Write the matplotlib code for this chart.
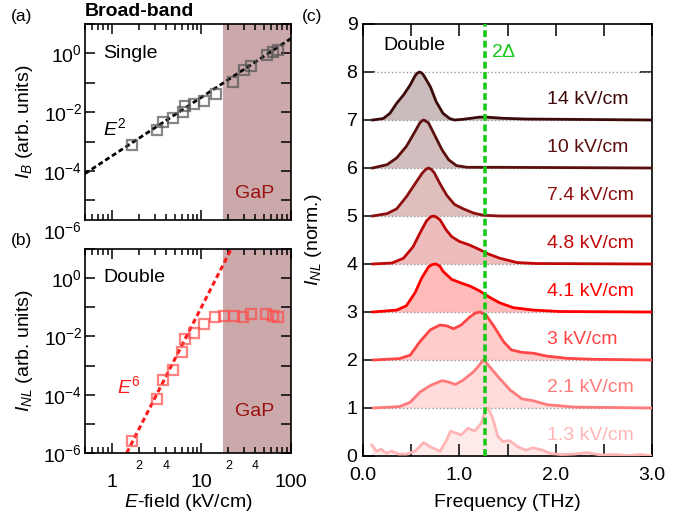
import matplotlib
matplotlib.use("Agg")
import matplotlib.pyplot as plt
import matplotlib.ticker as mticker
import matplotlib.transforms as mtransforms
import numpy as np

plt.rcParams['font.family'] = ['Liberation Sans', 'DejaVu Sans']
plt.rcParams['mathtext.fontset'] = 'custom'
plt.rcParams['mathtext.rm'] = 'Liberation Sans'
plt.rcParams['mathtext.it'] = 'Liberation Sans:italic'
plt.rcParams['font.size'] = 14

# ---- panel (a): single pulse, broad-band
single_E = [1.66, 3.16, 3.75, 4.84, 6.16, 6.54, 8.25, 10.7, 14.5, 22.6, 29.9, 35.4, 53.4, 63.2, 72.0]
single_logI = [-3.11, -2.60, -2.32, -2.21, -1.98, -1.79, -1.72, -1.62, -1.39, -0.97, -0.57, -0.44, -0.07, 0.04, 0.10]
e2_line_E = [0.5, 100]
e2_line_I = [8.1e-5, 3.2]

# ---- panel (b): double pulse
double_E = [1.66, 3.16, 3.75, 4.84, 5.99, 6.54, 8.25, 10.7, 14.1, 17.9, 23.0, 29.3, 35.4, 52.6, 63.2, 72.0]
double_logI = [-5.58, -4.14, -3.49, -3.14, -2.52, -2.08, -1.87, -1.59, -1.33, -1.31, -1.31, -1.33, -1.23, -1.23, -1.29, -1.35]
e6_line_E = [1.46, 21.5]
e6_line_I = [1e-6, 10]

gap_start = 17.2  # kV/cm, GaP region

# ---- panel (c): normalized spectra, offset by 1
labels_c = ['1.3 kV/cm', '2.1 kV/cm', '3 kV/cm', '4.1 kV/cm', '4.8 kV/cm', '7.4 kV/cm', '10 kV/cm', '14 kV/cm']
colors_c = ['#ffb5b5', '#ff7b7b', '#ff4545', '#ff0000', '#c00808', '#8c1010', '#5c0f0f', '#3d0a0a']

f_13 = [0.09, 0.14, 0.19, 0.24, 0.30, 0.37, 0.45, 0.54, 0.63, 0.70, 0.80, 0.86, 0.91, 0.96, 1.02, 1.09, 1.16, 1.23, 1.27,
        1.30, 1.35, 1.40, 1.45, 1.52, 1.61, 1.69, 1.76, 1.85, 1.95, 2.06, 2.19, 2.33, 2.47, 2.61, 2.75, 2.89, 3.0]
s_13 = [0.23, 0.10, 0.14, 0.06, 0.10, 0.04, 0.04, 0.10, 0.28, 0.19, 0.10, 0.30, 0.52, 0.48, 0.44, 0.58, 0.52, 0.69, 0.95,
        1.0, 0.76, 0.41, 0.30, 0.32, 0.19, 0.12, 0.17, 0.13, 0.05, 0.03, 0.04, 0.07, 0.02, 0.03, 0.01, 0.03, 0.0]
f_21 = [0.107, 0.38, 0.49, 0.59, 0.70, 0.82, 0.89, 0.96, 1.04, 1.15, 1.21, 1.25, 1.29, 1.34, 1.42, 1.53, 1.65, 1.77, 1.91, 2.19, 3.0]
s_21 = [0.0, 0.03, 0.12, 0.33, 0.47, 0.57, 0.54, 0.49, 0.58, 0.76, 0.90, 1.0, 0.92, 0.80, 0.61, 0.37, 0.19, 0.15, 0.07, 0.02, 0.0]
f_3 = [0.107, 0.38, 0.49, 0.59, 0.70, 0.80, 0.87, 0.94, 1.02, 1.11, 1.17, 1.215, 1.28, 1.35, 1.46, 1.54, 1.65, 1.77, 1.91, 2.12, 2.39, 3.0]
s_3 = [0.0, 0.03, 0.10, 0.38, 0.63, 0.73, 0.71, 0.65, 0.73, 0.90, 0.98, 1.0, 0.93, 0.73, 0.38, 0.21, 0.16, 0.14, 0.08, 0.035, 0.015, 0.0]
f_41 = [0.10, 0.35, 0.45, 0.54, 0.61, 0.68, 0.72, 0.76, 0.80, 0.83, 0.92, 1.01, 1.11, 1.21, 1.32, 1.42, 1.56, 1.77, 2.05, 3.0]
s_41 = [0.0, 0.04, 0.13, 0.40, 0.71, 0.94, 0.99, 1.0, 0.95, 0.85, 0.68, 0.61, 0.54, 0.44, 0.30, 0.19, 0.09, 0.04, 0.01, 0.0]
f_48 = [0.10, 0.30, 0.42, 0.52, 0.59, 0.66, 0.70, 0.73, 0.76, 0.80, 0.86, 0.92, 1.0, 1.1, 1.2, 1.3, 1.42, 1.6, 1.8, 3.0]
s_48 = [0.0, 0.02, 0.12, 0.36, 0.64, 0.90, 0.98, 1.0, 0.98, 0.92, 0.72, 0.57, 0.47, 0.40, 0.31, 0.21, 0.12, 0.03, 0.01, 0.0]
f_74 = [0.10, 0.25, 0.35, 0.45, 0.54, 0.61, 0.65, 0.68, 0.71, 0.74, 0.80, 0.87, 0.95, 1.04, 1.15, 1.25, 1.42, 3.0]
s_74 = [0.0, 0.05, 0.15, 0.40, 0.67, 0.88, 0.97, 1.0, 0.97, 0.90, 0.67, 0.43, 0.24, 0.15, 0.06, 0.015, 0.0, 0.0]
f_10 = [0.10, 0.25, 0.35, 0.45, 0.54, 0.59, 0.61, 0.63, 0.65, 0.68, 0.75, 0.82, 0.89, 0.97, 1.08, 1.35, 3.0]
s_10 = [0.0, 0.07, 0.21, 0.45, 0.76, 0.94, 0.98, 1.0, 0.98, 0.94, 0.66, 0.38, 0.17, 0.05, 0.015, 0.015, 0.0]
f_14 = [0.10, 0.21, 0.28, 0.35, 0.42, 0.49, 0.54, 0.56, 0.585, 0.61, 0.63, 0.70, 0.76, 0.83, 0.90, 0.95, 1.04, 1.21, 1.28, 1.46, 1.70, 2.05, 3.0]
s_14 = [0.0, 0.03, 0.14, 0.35, 0.52, 0.73, 0.92, 0.97, 1.0, 0.98, 0.93, 0.69, 0.38, 0.14, 0.03, 0.0, 0.015, 0.06, 0.06, 0.035, 0.02, 0.015, 0.0]
spectra_f = [f_13, f_21, f_3, f_41, f_48, f_74, f_10, f_14]
spectra_s = [s_13, s_21, s_3, s_41, s_48, s_74, s_10, s_14]
two_delta = 1.27

fig = plt.figure(figsize=(6.95, 5.19), dpi=100)
W, H = 695.0, 519.0

def fig_xy(px, py):
    return px / W, 1 - py / H

ax_a = fig.add_axes([85 / W, 1 - 220 / H, 206 / W, 196 / H])
ax_b = fig.add_axes([85 / W, 1 - 453 / H, 206 / W, 204 / H])
ax_c = fig.add_axes([363 / W, 1 - 456 / H, 289 / W, 432 / H])

def even_dec(v, pos):
    e = int(round(np.log10(v)))
    return r'$10^{%d}$' % e if e % 2 == 0 else ''

def minor_lab(v, pos):
    d = int(round(v / 10 ** np.floor(np.log10(v) + 1e-9)))
    return str(d) if d in (2, 4) and v > 1 else ''

for ax in (ax_a, ax_b):
    ax.set_xscale('log')
    ax.set_yscale('log')
    ax.set_xlim(0.5, 100)
    ax.axvspan(gap_start, 100, color='#cba8a9', zorder=0, lw=0)
    ax.yaxis.set_major_locator(mticker.FixedLocator([10.0 ** k for k in range(-6, 2)]))
    ax.yaxis.set_minor_locator(mticker.NullLocator())
    ax.yaxis.set_major_formatter(mticker.FuncFormatter(even_dec))
    ax.xaxis.set_major_locator(mticker.FixedLocator([1, 10, 100]))
    ax.xaxis.set_minor_locator(mticker.LogLocator(base=10, subs=np.arange(2, 10), numticks=20))
    ax.tick_params(which='both', direction='in', top=True, right=True, width=1.1)
    ax.tick_params(which='major', length=7, pad=2, labelsize=14)
    ax.tick_params(which='minor', length=4.5)
    for s in ax.spines.values():
        s.set_linewidth(1.2)

# (a)
ax_a.set_ylim(10 ** -5.67, 10)
ax_a.plot(e2_line_E, e2_line_I, color='black', lw=2, ls=(0, (1.8, 1.1)), zorder=2)
ax_a.plot(single_E, 10.0 ** np.array(single_logI), ls='none', marker='s', ms=6.5, mew=1.6,
          mfc='none', mec='#555555', alpha=0.7, zorder=3)
ax_a.tick_params(axis='x', which='both', labelbottom=False)
ax_a.set_ylabel(r'$I_B$ (arb. units)', fontsize=14)
ax_a.yaxis.set_label_coords(-0.245, 0.5)
blend = mtransforms.blended_transform_factory(ax_a.transAxes, ax_a.transData)
ax_a.text(-0.015, 1e-6, r'$10^{-6}$', transform=blend, ha='right', va='center_baseline',
          fontsize=14, clip_on=False)

# (b)
ax_b.set_ylim(1e-6, 10)
ax_b.plot(e6_line_E, e6_line_I, color='#ff1a1a', lw=2.2, ls=(0, (1.7, 1.1)), zorder=2)
ax_b.plot(double_E, 10.0 ** np.array(double_logI), ls='none', marker='s', ms=6.5, mew=1.6,
          mfc='none', mec='#ff4c4c', alpha=0.7, zorder=3)
ax_b.tick_params(axis='x', which='major', pad=15)
ax_b.xaxis.set_major_formatter(mticker.FixedFormatter(['1', '10', '100']))
ax_b.xaxis.set_minor_formatter(mticker.FuncFormatter(minor_lab))
ax_b.tick_params(axis='x', which='minor', labelsize=9, pad=5)
ax_b.set_ylabel(r'$I_{NL}$ (arb. units)', fontsize=14)
ax_b.yaxis.set_label_coords(-0.245, 0.5)
ax_b.set_xlabel(r'$E$-field (kV/cm)', fontsize=14)
ax_b.xaxis.set_label_coords(0.5, -0.19)

# (c)
ax_c.set_xlim(0, 3)
ax_c.set_ylim(0, 9)
ax_c.hlines(np.arange(1, 9), 0.1, 3.0, colors='#9a9a9a', linestyles=':', lw=1, zorder=2)
for i, (f, s) in enumerate(zip(spectra_f, spectra_s)):
    base = float(i)
    top = base + np.array(s)
    ax_c.fill_between(f, base, top, color=colors_c[i], alpha=0.27, lw=0, zorder=1)
    ax_c.plot(f, top, color=colors_c[i], lw=2, zorder=3)
    ax_c.text(1.91, base + 0.43, labels_c[i], color=colors_c[i], fontsize=14, va='center', ha='left')
ax_c.axvline(two_delta, color='#19c819', lw=2.6, ls=(0, (1.9, 1.0)), zorder=4)
ax_c.text(1.33, 8.4, r'2$\Delta$', color='#19c819', fontsize=14, va='center', ha='left')
ax_c.text(0.21, 8.55, 'Double', fontsize=14, va='center', ha='left')
ax_c.set_xticks([0, 1, 2, 3])
ax_c.set_xticklabels(['0.0', '1.0', '2.0', '3.0'])
ax_c.xaxis.set_minor_locator(mticker.MultipleLocator(0.5))
ax_c.set_yticks(range(0, 10))
ax_c.tick_params(which='both', direction='in', top=True, right=True, width=1.1, length=8.5)
ax_c.tick_params(axis='x', which='major', pad=8, labelsize=14)
ax_c.tick_params(axis='y', which='major', pad=4, labelsize=14)
for s in ax_c.spines.values():
    s.set_linewidth(1.2)
ax_c.set_ylabel(r'$I_{NL}$ (norm.)', fontsize=14)
ax_c.yaxis.set_label_coords(-0.135, 0.5)
ax_c.set_xlabel('Frequency (THz)', fontsize=14)
ax_c.xaxis.set_label_coords(0.5, -0.088)

# annotations in figure pixels
def ftext(px, py, s, **kw):
    x, y = fig_xy(px, py)
    fig.text(x, y, s, **kw)

ftext(22, 17, '(a)', fontsize=12.5, ha='center', va='center')
ftext(22, 240, '(b)', fontsize=12.5, ha='center', va='center')
ftext(312, 17, '(c)', fontsize=12.5, ha='center', va='center')
ftext(85, 12, 'Broad-band', fontsize=14, fontweight='bold', ha='left', va='center')
ftext(103, 53, 'Single', fontsize=14, ha='left', va='center')
ftext(103, 128, r'$E^2$', fontsize=14, ha='left', va='center')
ftext(235, 193, 'GaP', fontsize=14, color='#9b1010', ha='left', va='center')
ftext(103, 278, 'Double', fontsize=14, ha='left', va='center')
ftext(117, 386, r'$E^6$', fontsize=14, color='#ff1a1a', ha='left', va='center')
ftext(235, 412, 'GaP', fontsize=14, color='#9b1010', ha='left', va='center')

fig.savefig('out.png', dpi=100)
